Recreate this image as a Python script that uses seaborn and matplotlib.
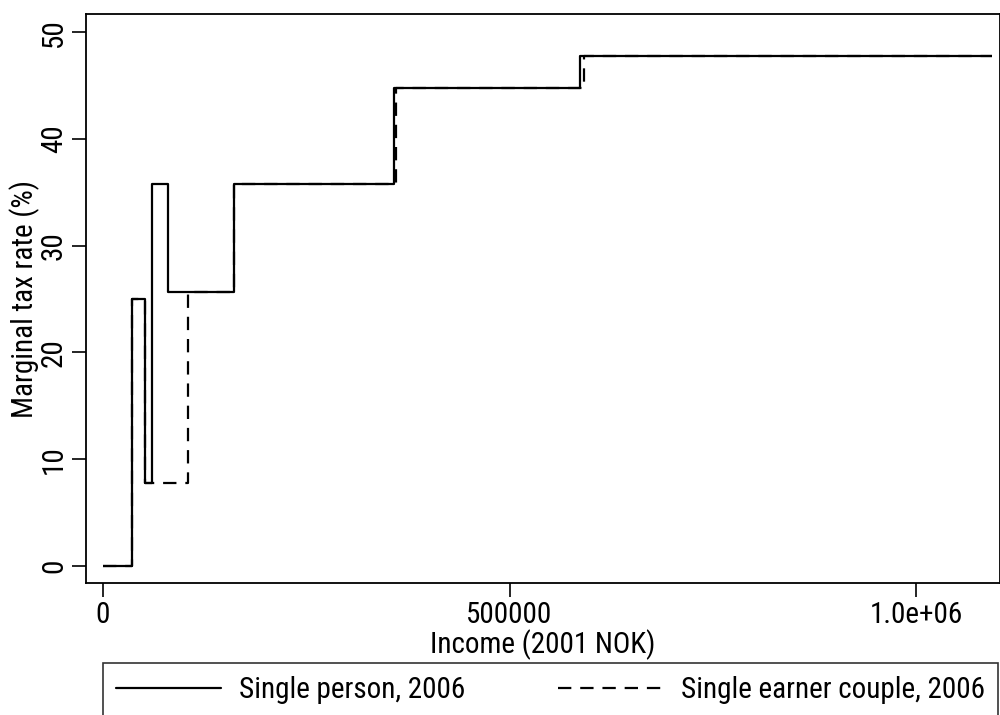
import matplotlib
matplotlib.use("Agg")
import matplotlib.pyplot as plt
import seaborn as sns
import pandas as pd
from matplotlib.ticker import FixedLocator, FixedFormatter
from matplotlib.lines import Line2D

# ---- data ----
person_income = [0, 35700, 51700, 59800, 80000, 161000, 358000, 587000, 1094000]
person_rate = [0.0, 25.0, 7.8, 35.8, 25.7, 35.8, 44.8, 47.8, 47.8]
couple_income = [0, 35700, 51700, 105000, 161000, 361000, 592000, 1094000]
couple_rate = [0.0, 25.0, 7.8, 25.7, 35.8, 44.8, 47.8, 47.8]
series_names = ["Single person, 2006", "Single earner couple, 2006"]
x_ticks = [0, 500000, 1000000]
x_tick_labels = ["0", "500000", "1.0e+06"]
y_ticks = [0, 10, 20, 30, 40, 50]

df = pd.concat([
    pd.DataFrame({"income": person_income, "rate": person_rate, "series": series_names[0]}),
    pd.DataFrame({"income": couple_income, "rate": couple_rate, "series": series_names[1]}),
], ignore_index=True)

sns.set_theme(style="ticks")
plt.rcParams["font.family"] = ["Roboto Condensed", "Liberation Sans", "DejaVu Sans"]
plt.rcParams["text.color"] = "black"
plt.rcParams["axes.labelcolor"] = "black"
FS = 21

fig = plt.figure(figsize=(10, 7.15), dpi=100)
ax = fig.add_axes([0.086, 0.1846, 0.914, 0.7958])

sns.lineplot(data=df, x="income", y="rate", hue="series", style="series",
             palette=["black", "black"], dashes=[(1, 0), (6, 4)],
             drawstyle="steps-post", estimator=None, sort=False,
             linewidth=1.6, legend=False, ax=ax)

ax.set_xlim(-20900, 1103300)
ax.set_ylim(-1.6, 51.7)
ax.xaxis.set_major_locator(FixedLocator(x_ticks))
ax.xaxis.set_major_formatter(FixedFormatter(x_tick_labels))
ax.set_yticks(y_ticks)
ax.set_yticklabels([str(v) for v in y_ticks], rotation=90, va="center")
ax.tick_params(axis="both", direction="out", length=10, width=1.2, colors="black",
               labelsize=FS, pad=3)
for s in ax.spines.values():
    s.set_color("black")
    s.set_linewidth(1.3)
ax.set_xlabel("Income (2001 NOK)", fontsize=FS, labelpad=0)
ax.set_ylabel("Marginal tax rate (%)", fontsize=FS, labelpad=0)

handles = [Line2D([], [], color="black", lw=1.6),
           Line2D([], [], color="black", lw=1.6, dashes=(6, 4))]
leg = fig.legend(handles, series_names, loc="upper left",
                 bbox_to_anchor=(0.103, 1 - 663 / 715, 0.895, 0.0), mode="expand",
                 ncol=2, fontsize=FS, frameon=True, fancybox=False,
                 handlelength=3.6, handletextpad=0.6, borderpad=0.45,
                 borderaxespad=0.0, columnspacing=3.0)
leg.get_frame().set_edgecolor("black")
leg.get_frame().set_linewidth(1.2)

fig.savefig("out.png", dpi=100, facecolor="white")
